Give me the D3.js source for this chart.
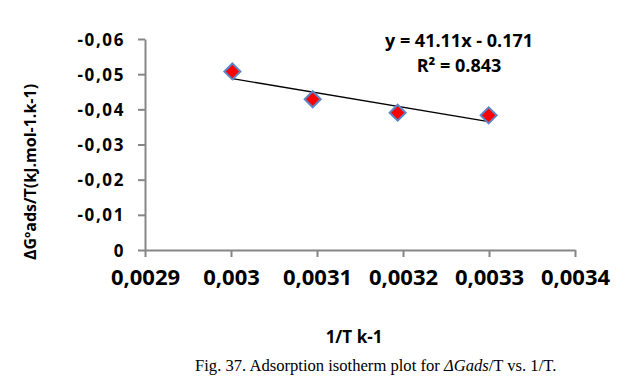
<!DOCTYPE html>
<html>
<head>
<meta charset="utf-8">
<script src="https://cdn.jsdelivr.net/npm/d3@7"></script>
<style>
  body { margin: 0; background: #fff; }
  text { font-family: "Open Sans", sans-serif; font-weight: bold; fill: #000; }
</style>
</head>
<body>
<div id="container"></div>
<script>
/* CONSTANTS AND GLOBALS */
const width = 628;
const height = 382;

/* DATA */
const invT = [0.0030016, 0.003095, 0.0031938, 0.0032996];
const dGads = [-0.05077, -0.04286, -0.03905, -0.03829];
const xTicks = [0.0029, 0.003, 0.0031, 0.0032, 0.0033, 0.0034];
const yTicks = [0, -0.01, -0.02, -0.03, -0.04, -0.05, -0.06];
const equation = ["y = 41.11x - 0.171", "R² = 0.843"];

const data = invT.map((x, i) => ({ x: x, y: dGads[i] }));

/* SCALES */
const xScale = d3.scaleLinear()
  .domain([0.0029, 0.0034])
  .range([145, 575]);

const yScale = d3.scaleLinear()
  .domain([0, -0.06])
  .range([250, 39]);

const fmt = d => String(+d.toFixed(4)).replace(".", ",");

/* SVG */
const svg = d3.select("#container")
  .append("svg")
  .attr("width", width)
  .attr("height", height);

// axes
const xAxis = d3.axisBottom(xScale).tickValues(xTicks).tickFormat(fmt).tickSizeInner(7).tickSizeOuter(0).tickPadding(12);
const yAxis = d3.axisLeft(yScale).tickValues(yTicks).tickFormat(fmt).tickSizeInner(7).tickSizeOuter(0).tickPadding(13);

const gx = svg.append("g")
  .attr("transform", `translate(0,${yScale(0)})`)
  .call(xAxis);
gx.selectAll("text").style("font-size", "22px");

const gy = svg.append("g")
  .attr("transform", `translate(${xScale(0.0029)},0)`)
  .call(yAxis);
gy.selectAll("text")
  .style("font-size", "17px")
  .style("letter-spacing", "1.6px")
  .attr("dy", "0.36em");

svg.selectAll(".domain, .tick line")
  .attr("stroke", "#868686")
  .attr("stroke-width", 2);

// trendline (least squares fit)
const mx = d3.mean(data, d => d.x), my = d3.mean(data, d => d.y);
const slope = d3.sum(data, d => (d.x - mx) * (d.y - my)) / d3.sum(data, d => (d.x - mx) ** 2);
const icpt = my - slope * mx;
const xExt = d3.extent(invT);

svg.append("line")
  .attr("x1", xScale(xExt[0]))
  .attr("y1", yScale(slope * xExt[0] + icpt))
  .attr("x2", xScale(xExt[1]))
  .attr("y2", yScale(slope * xExt[1] + icpt))
  .attr("stroke", "#000")
  .attr("stroke-width", 1.3);

// markers
svg.selectAll("path.pt")
  .data(data)
  .join("path")
  .attr("class", "pt")
  .attr("d", "M0,-8L8,0L0,8L-8,0Z")
  .attr("transform", d => `translate(${xScale(d.x)},${yScale(d.y)})`)
  .attr("fill", "#ff0000")
  .attr("stroke", "#5b85c6")
  .attr("stroke-width", 2);

// equation
svg.selectAll("text.eq")
  .data(equation)
  .join("text")
  .attr("class", "eq")
  .attr("x", 459)
  .attr("y", (d, i) => 47 + i * 25)
  .attr("text-anchor", "middle")
  .style("font-size", "18px")
  .text(d => d);

// axis titles
svg.append("text")
  .attr("transform", "translate(36,172) rotate(-90)")
  .attr("text-anchor", "middle")
  .style("font-size", "16px")
  .text("ΔGºads/T(kJ.mol-1.k-1)");

svg.append("text")
  .attr("x", 354)
  .attr("y", 343)
  .attr("text-anchor", "middle")
  .style("font-size", "17px")
  .text("1/T k-1");

// caption
const cap = svg.append("text")
  .attr("x", 195)
  .attr("y", 371)
  .style("font-family", "'Liberation Serif', 'Times New Roman', serif")
  .style("font-weight", "normal")
  .style("font-size", "16.6px");
cap.append("tspan").text("Fig. 37. Adsorption isotherm plot for ");
cap.append("tspan").style("font-style", "italic").text("ΔGads");
cap.append("tspan").text("/T vs. 1/T.");
</script>
</body>
</html>
